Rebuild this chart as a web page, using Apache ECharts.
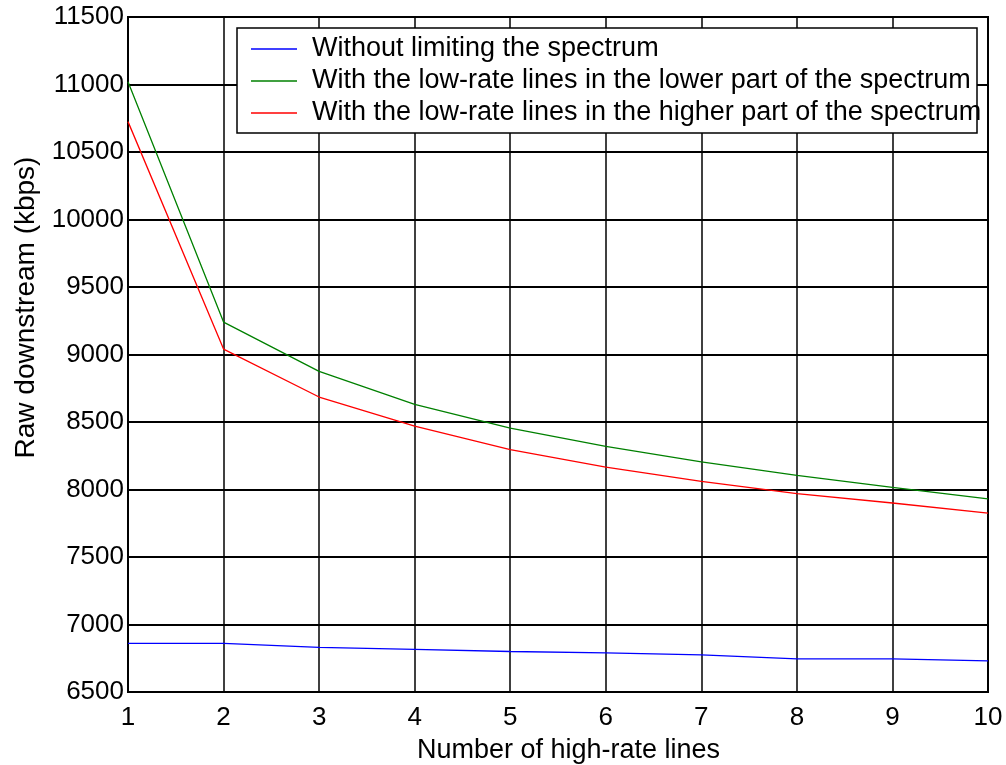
<!DOCTYPE html>
<html>
<head>
<meta charset="utf-8">
<script src="https://cdn.jsdelivr.net/npm/echarts@6/dist/echarts.min.js"></script>
<style>
  html, body { margin: 0; padding: 0; background: #fff; }
  #chart { width: 1006px; height: 765px; }
</style>
</head>
<body>
<div id="chart"></div>
<script>
// number of high-rate lines
var lines = [1, 2, 3, 4, 5, 6, 7, 8, 9, 10];
var seriesNames = [
  'Without limiting the spectrum',
  'With the low-rate lines in the lower part of the spectrum',
  'With the low-rate lines in the higher part of the spectrum'
];
// raw downstream (kbps)
var noLimit = [6860, 6860, 6830, 6815, 6800, 6790, 6775, 6745, 6745, 6730];
var lowerPart = [11020, 9240, 8875, 8630, 8455, 8320, 8205, 8105, 8015, 7930];
var higherPart = [10725, 9040, 8685, 8470, 8295, 8165, 8060, 7970, 7900, 7825];
var colors = ['#0000ff', '#008000', '#ff0000'];

var font = "'Liberation Sans', Arial, sans-serif";

function pairs(vals) {
  return lines.map(function (x, i) { return [x, vals[i]]; });
}

var myChart = echarts.init(document.getElementById('chart'));

var option = {
  animation: false,
  backgroundColor: '#fff',
  textStyle: { fontFamily: font, color: '#000' },
  grid: {
    left: 128, right: 18, top: 17, bottom: 73,
    outerBoundsMode: 'none',
    containLabel: false,
    show: true,
    borderColor: '#000',
    borderWidth: 2
  },
  xAxis: {
    type: 'value',
    min: 1, max: 10, interval: 1,
    name: 'Number of high-rate lines',
    nameLocation: 'middle',
    nameGap: 45,
    nameTextStyle: { fontSize: 27, color: '#000', fontFamily: font, padding: [0, 0, 0, 21] },
    axisLine: { lineStyle: { color: '#000', width: 2 } },
    axisTick: { show: false },
    axisLabel: { fontSize: 26, color: '#000', margin: 13, fontFamily: font },
    splitLine: { show: true, lineStyle: { color: '#000', width: 1.5 } }
  },
  yAxis: {
    type: 'value',
    min: 6500, max: 11500, interval: 500,
    name: 'Raw downstream (kbps)',
    nameLocation: 'middle',
    nameGap: 88,
    nameTextStyle: { fontSize: 28, color: '#000', fontFamily: font, padding: [0, 0, 0, 94] },
    axisLine: { show: true, lineStyle: { color: '#000', width: 2 } },
    axisTick: { show: false },
    axisLabel: {
      fontSize: 26, color: '#000', margin: 4, fontFamily: font,
      formatter: function (v) { return String(v); }
    },
    splitLine: { show: true, lineStyle: { color: '#000', width: 2 } }
  },
  legend: {
    orient: 'vertical',
    left: 251,
    top: 33,
    z: 5,
    itemGap: 0,
    itemWidth: 46,
    itemHeight: 1.5,
    icon: 'rect',
    padding: 0,
    textStyle: { fontSize: 27, color: '#000', fontFamily: font, lineHeight: 32, padding: [0, 0, 0, 10] },
    data: seriesNames
  },
  graphic: [{
    type: 'rect',
    z: 3,
    shape: { x: 237, y: 28, width: 740, height: 105 },
    style: { fill: '#fff', stroke: '#000', lineWidth: 1.5 }
  }],
  series: [noLimit, lowerPart, higherPart].map(function (vals, i) {
    return {
      name: seriesNames[i],
      type: 'line',
      data: pairs(vals),
      symbol: 'none',
      color: colors[i],
      lineStyle: { color: colors[i], width: 1.3 },
      z: 2
    };
  })
};

myChart.setOption(option);
</script>
</body>
</html>
